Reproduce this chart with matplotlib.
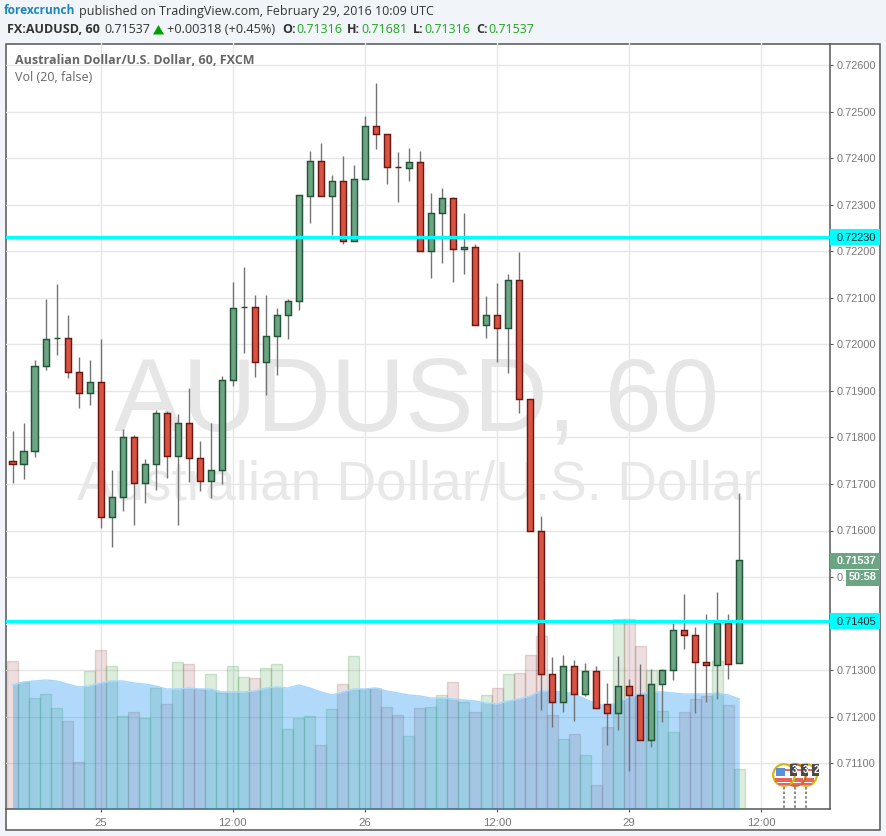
import matplotlib
matplotlib.use('Agg')
import matplotlib.pyplot as plt
from matplotlib.patches import Rectangle, Circle, Polygon

# candles, hourly
opens = [.71750, .71742, .71770, .71954, .72013, .72014, .71941, .71896, .71918, .71630,
         .71673, .71800, .71701, .71742, .71853, .71761, .71830, .71755, .71707, .71731,
         .71924, .72080, .72081, .71963, .72017, .72062, .72094, .72319, .72393, .72319,
         .72350, .72221, .72356, .72470, .72451, .72381, .72379, .72391, .72201, .72281,
         .72314, .72204, .72209, .72041, .72063, .72035, .72138, .71882, .71599, .71291,
         .71231, .71308, .71248, .71298, .71227, .71207, .71265, .71246, .71149, .71270,
         .71300, .71386, .71376, .71318, .71310, .71402, .71316]
closes = [.71742, .71770, .71954, .72012, .72013, .71941, .71896, .71918, .71630, .71673,
          .71800, .71701, .71742, .71853, .71761, .71830, .71755, .71707, .71731, .71924,
          .72079, .72080, .71963, .72017, .72062, .72094, .72320, .72393, .72319, .72350,
          .72221, .72356, .72470, .72451, .72381, .72380, .72391, .72201, .72281, .72314,
          .72204, .72209, .72041, .72063, .72035, .72138, .71882, .71598, .71291, .71231,
          .71308, .71248, .71298, .71218, .71207, .71265, .71246, .71149, .71270, .71300,
          .71386, .71376, .71318, .71310, .71402, .71314, .71537]
highs = [.71813, .71830, .71966, .72097, .72130, .72062, .71972, .71966, .72011, .71730,
         .71819, .71806, .71753, .71858, .71856, .71851, .71906, .71792, .71832, .71931,
         .72133, .72165, .72105, .72105, .72079, .72098, .72320, .72415, .72432, .72364,
         .72404, .72385, .72490, .72561, .72451, .72413, .72421, .72415, .72324, .72336,
         .72316, .72282, .72216, .72104, .72132, .72151, .72199, .71882, .71632, .71328,
         .71333, .71322, .71316, .71309, .71273, .71331, .71281, .71313, .71303, .71303,
         .71401, .71464, .71393, .71421, .71468, .71421, .71681]
lows = [.71702, .71710, .71758, .71944, .71977, .71927, .71863, .71869, .71605, .71564,
        .71642, .71611, .71659, .71687, .71712, .71611, .71704, .71684, .71669, .71699,
        .71910, .71981, .71929, .71891, .71934, .72011, .72073, .72261, .72319, .72235,
        .72216, .72221, .72356, .72419, .72344, .72306, .72351, .72201, .72143, .72174,
        .72133, .72151, .72041, .72013, .71961, .71939, .71853, .71598, .71215, .71178,
        .71210, .71191, .71245, .71218, .71139, .71172, .71084, .71149, .71135, .71189,
        .71279, .71346, .71208, .71232, .71238, .71281, .71316]

# volume has no scale in the chart, so these are just relative heights
volumes = [148, 127, 111, 115, 101, 88, 47, 138, 159, 143, 93, 97, 91, 121, 105, 147, 145,
           120, 135, 116, 143, 132, 131, 141, 145, 80, 91, 93, 64, 100, 125, 153, 120, 121,
           102, 94, 73, 101, 102, 114, 127, 107, 97, 114, 121, 135, 136, 154, 173, 94, 70,
           75, 54, 24, 82, 190, 190, 163, 139, 98, 77, 97, 110, 113, 148, 104, 40]
vol_ma = [124, 127, 128, 129, 128, 125, 122, 123, 126, 128, 128, 126, 125, 123, 120, 120, 121,
          120, 120, 117, 117, 117, 118, 121, 122, 121, 124, 121, 117, 114, 117, 120, 120, 121,
          118, 116, 114, 113, 111, 111, 110, 109, 108, 106, 105, 108, 110, 113, 118, 118, 117,
          115, 110, 105, 103, 107, 112, 115, 117, 117, 116, 115, 115, 115, 116, 114, 110]

price_ticks = [.726, .725, .724, .723, .722, .721, .720, .719, .718, .717, .716, .715, .714,
               .713, .712, .711]
# .714 sits under the cyan box and .715 under the countdown, only "0." of it shows
price_labels = ['0.72600', '0.72500', '0.72400', '0.72300', '0.72200', '0.72100', '0.72000',
                '0.71900', '0.71800', '0.71700', '0.71600', '0.', '', '0.71300', '0.71200',
                '0.71100']
time_ticks = [8, 20, 32, 44, 56, 68]
time_labels = ['25', '12:00', '26', '12:00', '29', '12:00']
levels = [.72230, .71405]

W, H = 887, 836
GREEN, GREEN_E = '#6ba583', '#225437'
RED, RED_E = '#d75442', '#6b1713'
AXIS = '#555555'
TICK = '#787878'
TICK_FONT = 'Liberation Sans'
HEAD_FONT = 'Open Sans'

fig = plt.figure(figsize=(W / 100, H / 100), dpi=100, facecolor='#f1f5f9')

# full figure layer in pixels for the frame
bg = fig.add_axes([0, 0, 1, 1], zorder=0)
bg.set_xlim(0, W)
bg.set_ylim(H, 0)
bg.axis('off')
bg.add_patch(Rectangle((6.5, 43.5), 873.5, 786, fc='white', ec=AXIS, lw=1.1))

# price axes
left, right, top, bottom = 6.5, 830, 43.5, 809
ax = fig.add_axes([left / W, 1 - bottom / H, (right - left) / W, (bottom - top) / H], zorder=1)
ax.patch.set_alpha(0)
ax.set_xlim((left - 12.5) / 11.012, (right - 12.5) / 11.012)
ax.set_ylim(.726 - (bottom - 65) / 46550, .726 - (top - 65) / 46550)
for s in ['top', 'left']:
    ax.spines[s].set_visible(False)
for s in ['right', 'bottom']:
    ax.spines[s].set_color(AXIS)
    ax.spines[s].set_linewidth(1.1)
ax.grid(True, color='#e6e6e6', lw=0.95, zorder=1)
ax.set_axisbelow(True)

ax.text(416, 430, 'AUDUSD, 60', transform=bg.transData, ha='center', va='baseline',
        fontsize=74, color='#e6e6e6', family=TICK_FONT, zorder=0.5)
ax.text(419, 500, 'Australian Dollar/U.S. Dollar', transform=bg.transData, ha='center',
        va='baseline', fontsize=39.5, color='#e8e8e8', family=TICK_FONT, zorder=0.5)

# volume on its own scale, bottom of the pane
vax = ax.twinx()
vax.patch.set_alpha(0)
vax.set_ylim(0, bottom - top)
vax.set_yticks([])
for s in vax.spines.values():
    s.set_visible(False)
idx = list(range(len(opens)))
up = [c >= o for o, c in zip(opens, closes)]
vax.bar(idx, volumes, width=1.0,
        color=[(49 / 255, 149 / 255, 49 / 255, .16) if u else (149 / 255, 61 / 255, 61 / 255, .16) for u in up],
        edgecolor=[(49 / 255, 149 / 255, 49 / 255, .22) if u else (149 / 255, 61 / 255, 61 / 255, .2) for u in up],
        linewidth=1, zorder=2)
vax.fill_between(idx, 0, vol_ma, color='#2196f3', alpha=.35, lw=0, zorder=3)
vax.plot(idx, vol_ma, color='#a5d8fc', lw=1, zorder=3)

# candles go above the volume
cax = ax.twinx()
cax.patch.set_alpha(0)
cax.set_ylim(ax.get_ylim())
cax.set_yticks([])
for s in cax.spines.values():
    s.set_visible(False)
cax.vlines(idx, lows, highs, color='#737375', lw=1, zorder=4)
body_low = [min(o, c) for o, c in zip(opens, closes)]
body_h = [abs(o - c) for o, c in zip(opens, closes)]
cax.bar(idx, body_h, bottom=body_low, width=0.55, color=[GREEN if u else RED for u in up],
        edgecolor=[GREEN_E if u else RED_E for u in up], linewidth=1.05, zorder=5)
for lv in levels:
    cax.axhline(lv, color='#00ffff', lw=2.3, zorder=6)

# twinx moves the ticks back to the left, so set them here
ax.yaxis.tick_right()
ax.set_yticks(price_ticks)
ax.set_yticklabels(price_labels, fontsize=7.9, color=TICK, family=TICK_FONT)
ax.set_xticks(time_ticks)
ax.set_xticklabels(time_labels, fontsize=8.2, color=TICK, family=TICK_FONT)
ax.tick_params(axis='both', length=2.5, width=0.8, color=AXIS, pad=2.5)
ax.tick_params(axis='x', pad=4)

# top layer in pixels: header, labels, event badges
fg = fig.add_axes([0, 0, 1, 1], zorder=5)
fg.patch.set_alpha(0)
fg.set_xlim(0, W)
fg.set_ylim(H, 0)
fg.axis('off')

for lv, txt in zip(levels, ['0.72230', '0.71405']):
    yy = 65 + (.726 - lv) * 46550
    fg.add_patch(Rectangle((830.5, yy - 8), 50, 16, fc='#00ffff', ec='none'))
    fg.text(856.5, yy + .5, txt, fontsize=7.9, color='#222222', family=TICK_FONT, ha='center', va='center')
fg.add_patch(Rectangle((830.5, 552.5), 50, 16, fc=GREEN, ec='none'))
fg.text(856.5, 560.5, '0.71537', fontsize=7.9, color='white', family=TICK_FONT, weight='bold', ha='center', va='center')
fg.add_patch(Rectangle((846, 569.5), 34, 16, fc=GREEN, ec='none'))
fg.text(862.5, 577.5, '50:58', fontsize=7.9, color='white', family=TICK_FONT, weight='bold', ha='center', va='center')


def label(x, y, s, color='#333333', weight='normal', size=8.8):
    fg.text(x, y, s, fontsize=size, color=color, weight=weight, family=HEAD_FONT, ha='left', va='center')


label(4, 11, 'forexcrunch', color='#1b87b9', weight='bold', size=8.6)
label(79, 11, 'published on TradingView.com, February 29, 2016 10:09 UTC', size=9)
label(7, 29.5, 'FX:AUDUSD, 60', weight='bold', size=9)
label(104, 29.5, '0.71537', size=9)
fg.add_patch(Polygon([(153, 34.5), (164, 34.5), (158.5, 25)], fc='#00a000', ec='none'))
label(167, 29.5, '+0.00318 (+0.45%)', size=9.2)
for x_name, name, x_val, val in [(282, 'O:', 296, '0.71316'), (347, 'H:', 361, '0.71681'),
                                 (413, 'L:', 424, '0.71316'), (476, 'C:', 488, '0.71537')]:
    label(x_name, 29.5, name, weight='bold', size=9)
    label(x_val, 29.5, val, color='#22a322', size=9)
label(15, 60.5, 'Australian Dollar/U.S. Dollar, 60, FXCM', color='#666666', weight='bold', size=9)
label(15, 77.5, 'Vol (20, false)', color='#666666', size=9)

# economic calendar flags
for x, edge, n in [(806, '#d9b70f', '2'), (795, '#cf6b10', '3'), (784, '#d9b70f', '3')]:
    fg.plot([x, x], [787, 808], color='#8c8c8c', lw=1.5, ls=(0, (1.2, 1)))
    fg.add_patch(Circle((x, 775), 10.8, fc='white', ec=edge, lw=1.6))
    fg.add_patch(Rectangle((x - 8.5, 778), 17, 3.5, fc='#e8655f', ec='none'))
    fg.add_patch(Rectangle((x - 6, 783), 12, 2, fc='#e8655f', ec='none'))
    fg.add_patch(Rectangle((x + 1, 768.5), 7, 2.5, fc='#e8655f', ec='none'))
    fg.add_patch(Rectangle((x - 8, 767.5), 9, 8, fc='#5b8fd9', ec='none'))
    fg.add_patch(Rectangle((x + 6.5, 764), 7, 11.5, fc='#4a4a4a', ec='none'))
    fg.text(x + 10, 769.7, n, fontsize=7, color='white', family=TICK_FONT, weight='bold',
            ha='center', va='center')

fig.savefig('out.png', dpi=100, facecolor=fig.get_facecolor())
